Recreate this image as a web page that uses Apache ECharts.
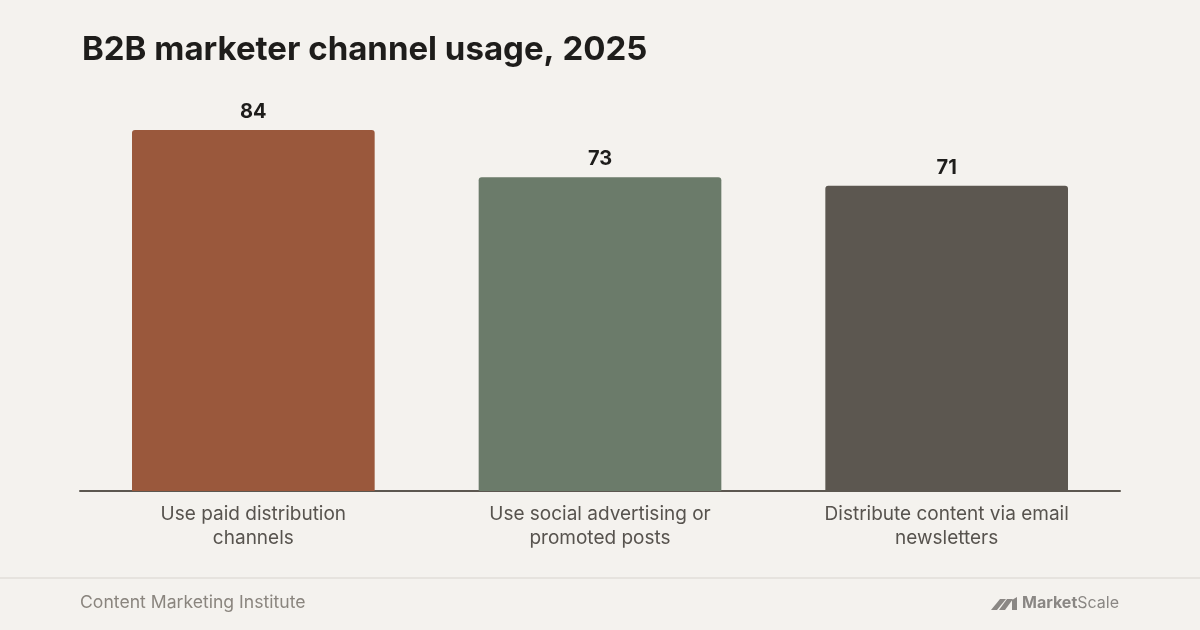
<!DOCTYPE html>
<html>
<head>
<meta charset="utf-8">
<script src="https://cdn.jsdelivr.net/npm/echarts@6/dist/echarts.min.js"></script>
<style>
html,body{margin:0;padding:0;background:#f4f2ee;}
#c{width:1200px;height:630px;}
</style>
</head>
<body>
<div id="c"></div>
<script>
const categories = ["Use paid distribution\nchannels", "Use social advertising or\npromoted posts", "Distribute content via email\nnewsletters"];
const values = [84, 73, 71];
const barColors = ["#9a583c", "#6b7b6a", "#5c5750"];

const chart = echarts.init(document.getElementById('c'));
const font = "Inter, 'Noto Sans', sans-serif";
chart.setOption({
  backgroundColor: '#f4f2ee',
  animation: false,
  title: {
    text: 'B2B marketer channel usage, 2025',
    left: 77, top: 29,
    textStyle: {fontFamily: font, fontWeight: 'bold', fontSize: 33, color: '#1e1d1b'}
  },
  grid: {left: 80, right: 80, top: 130, bottom: 139},
  xAxis: {
    type: 'category',
    data: categories,
    axisLine: {lineStyle: {color: '#5c5750', width: 2}},
    axisTick: {show: false},
    axisLabel: {fontFamily: font, fontSize: 19, color: '#57534e', lineHeight: 24, margin: 11, interval: 0}
  },
  yAxis: {
    type: 'value', min: 0, max: 84,
    show: false, splitLine: {show: false}
  },
  series: [{
    type: 'bar',
    data: values.map((v, i) => ({value: v, itemStyle: {color: barColors[i]}})),
    barWidth: '70%',
    itemStyle: {borderRadius: [3, 3, 0, 0]},
    label: {show: true, position: 'top', distance: 8, fontFamily: font, fontWeight: 'bold', fontSize: 20, color: '#1e1d1b'}
  }],
  graphic: [
    {type: 'rect', shape: {x: 0, y: 577, width: 1200, height: 2}, style: {fill: '#e6e3de'}},
    {type: 'text', left: 80, top: 594, style: {text: 'Content Marketing Institute', font: "17.6px " + font, fill: '#8a857e'}},
    {type: 'text', right: 81, top: 595, style: {
      text: '{b|Market}{r|Scale}',
      rich: {
        b: {fontFamily: font, fontWeight: 'bold', fontSize: 16, fill: '#8a8784', color: '#8a8784'},
        r: {fontFamily: font, fontWeight: 'normal', fontSize: 16, fill: '#8a8784', color: '#8a8784'}
      }
    }},
    {type: 'polygon', shape: {points: [[991,610],[997,610],[1006,599],[1000,599]]}, style: {fill: '#8a8784'}},
    {type: 'polygon', shape: {points: [[999,610],[1005,610],[1013,599],[1007,599]]}, style: {fill: '#8a8784'}},
    {type: 'polygon', shape: {points: [[1012,600],[1017,597],[1017,610],[1012,610]]}, style: {fill: '#8a8784'}}
  ]
});
</script>
</body>
</html>
